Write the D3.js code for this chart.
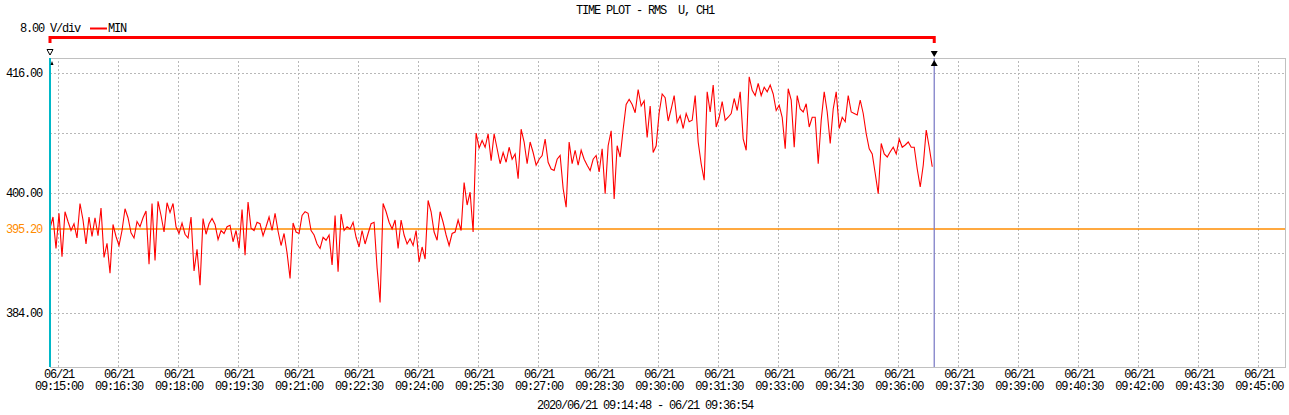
<!DOCTYPE html>
<html>
<head>
<meta charset="utf-8">
<script src="https://cdn.jsdelivr.net/npm/d3@7/dist/d3.min.js"></script>
<style>
  html, body { margin: 0; padding: 0; background: #fff; }
  svg text { font-family: "Liberation Mono", "DejaVu Sans Mono", monospace; font-size: 12px; letter-spacing: -1.2px; fill: #000; white-space: pre; }
</style>
</head>
<body>
<svg id="chart" width="1289" height="415"></svg>
<script>
// ---------- data ----------
const chartTitle = "TIME PLOT - RMS  U, CH1";
const scaleLabel = "8.00 V/div";
const seriesName = "MIN";
const rangeLabel = "2020/06/21 09:14:48 - 06/21 09:36:54";
const startTime = "2020/06/21 09:14:48";
const stepSeconds = 4.5;
const domainStart = "2020/06/21 09:14:48";
const domainEnd = "2020/06/21 09:45:40";
const markerStart = "2020/06/21 09:14:48";
const markerEnd = "2020/06/21 09:36:54";
const referenceValue = 395.20;
const yTickLabels = ["416.00", "400.00", "384.00"];
const yGridValues = [384, 392, 400, 408, 416];
const yDomain = [376.8, 418];
const xTickDate = "06/21";
const xTickTimes = ["09:15:00","09:16:30","09:18:00","09:19:30","09:21:00","09:22:30","09:24:00",
  "09:25:30","09:27:00","09:28:30","09:30:00","09:31:30","09:33:00","09:34:30","09:36:00",
  "09:37:30","09:39:00","09:40:30","09:42:00","09:43:30","09:45:00"];
const minValues = [
  395.3, 396.8, 392.6, 397.3, 391.5, 397.5, 396.2, 395.0, 395.9, 394.0,
  398.6, 396.4, 393.2, 396.8, 394.2, 396.7, 394.3, 398.0, 391.4, 393.3,
  389.3, 395.8, 394.2, 393.0, 395.0, 397.9, 396.7, 394.7, 394.0, 396.2,
  395.5, 396.7, 397.6, 390.5, 398.6, 391.0, 398.9, 397.0, 394.8, 398.7,
  397.4, 398.6,
  395.5, 394.6, 396.0, 394.5, 394.0, 396.8, 389.6, 392.5, 387.7, 396.6,
  394.5, 395.9, 396.6, 395.8, 393.8, 395.0, 394.6, 395.5, 395.7, 393.5,
  395.0, 392.6, 397.8, 391.7, 398.8, 395.3, 395.0, 396.1, 395.9, 394.3,
  395.5, 396.8, 395.0, 397.3, 394.9, 393.0, 394.6, 392.0, 388.6, 396.0,
  394.8, 394.6,
  397.0, 397.5, 397.3, 395.0, 394.4, 393.2, 392.6, 394.1, 393.7, 394.4,
  390.4, 397.0, 389.5, 397.2, 395.0, 395.5, 395.2, 396.1, 394.1, 392.8,
  395.0, 393.2, 394.6, 395.9, 396.1, 390.0, 385.4, 398.6, 397.5, 396.1,
  395.2, 396.4, 392.6, 396.4, 394.4, 393.2, 393.9, 393.0, 395.0, 390.8,
  392.8, 391.2, 399.0, 397.5,
  394.8, 393.7, 397.5, 396.1, 394.4, 393.0, 394.6, 394.8, 396.4, 395.0,
  401.4, 398.4, 400.1, 394.8, 408.0, 406.0, 407.0, 406.1, 407.9, 404.3,
  407.9, 405.9, 403.9, 405.4, 404.1, 406.1, 404.5, 405.2, 401.9, 408.5,
  406.8, 403.9, 406.8, 405.4, 403.7, 404.5, 405.0, 407.2, 404.1, 403.2,
  403.0, 404.5, 405.0, 400.6, 398.1, 406.8, 403.9, 405.7, 403.7, 405.7,
  404.5, 403.7, 403.0, 404.5, 405.0, 402.8, 405.9, 399.9, 406.3, 408.3,
  399.2, 406.3, 404.8, 408.5, 411.8, 412.5, 411.8, 410.7, 413.8, 411.6,
  412.3, 407.4, 411.6, 405.4, 406.3, 410.7, 413.2, 412.7, 409.6, 411.2,
  413.0, 409.4,
  410.3, 408.6, 410.6, 409.5, 409.7, 413.0, 406.8, 403.9, 401.7, 413.5,
  410.8, 414.4, 408.8, 410.1, 412.2, 409.7, 410.1, 410.6, 412.6, 411.0,
  413.5, 407.2, 405.7, 415.5, 413.7, 413.0, 414.6, 413.0, 414.1, 413.5,
  414.4, 413.2, 411.0, 411.7, 410.1, 405.9, 413.9, 412.4, 406.1, 413.0,
  411.2, 410.8, 411.9, 408.8, 410.1, 410.1, 403.9, 409.7, 413.5, 410.8,
  406.6, 411.2, 413.5, 408.6, 410.1, 409.5, 413.0, 410.8, 410.6, 410.4,
  412.4, 410.6, 407.9, 405.9, 405.2, 402.6, 399.9, 406.6, 405.2, 404.8,
  405.5, 406.1, 405.2, 407.2, 406.1, 406.4, 406.8, 406.1, 406.1, 403.2,
  400.8, 403.7, 408.4, 406.1, 403.5
];

// ---------- layout ----------
const parse = d3.timeParse("%Y/%m/%d %H:%M:%S");
const plot = { left: 50, right: 1285, top: 58, bottom: 367 };
const svg = d3.select("#chart");

const x = d3.scaleTime()
  .domain([parse(domainStart), parse(domainEnd)])
  .range([plot.left, plot.right]);
const y = d3.scaleLinear().domain(yDomain).range([plot.bottom, plot.top]);

const t0 = parse(startTime);
const series = minValues.map((v, i) => ({ t: new Date(t0.getTime() + i * stepSeconds * 1000), v }));
const tickDates = xTickTimes.map(s => parse("2020/06/21 " + s));

// vertical dotted grid
const gx = svg.append("g")
  .attr("transform", `translate(0,${plot.bottom})`)
  .call(d3.axisBottom(x).tickValues(tickDates).tickSize(-(plot.bottom - plot.top)).tickFormat(""));
gx.select(".domain").remove();
gx.selectAll("line").attr("stroke", "#b8b8b8").attr("stroke-dasharray", "2,2").attr("shape-rendering", "crispEdges");

// horizontal dotted grid
const gy = svg.append("g")
  .attr("transform", `translate(${plot.left},0)`)
  .call(d3.axisLeft(y).tickValues(yGridValues).tickSize(-(plot.right - plot.left)).tickFormat(""));
gy.select(".domain").remove();
gy.selectAll("line").attr("stroke", "#b8b8b8").attr("stroke-dasharray", "2,2").attr("shape-rendering", "crispEdges");

// frame
svg.append("path")
  .attr("d", `M${plot.left},${plot.top}H${plot.right}V${plot.bottom}H${plot.left}`)
  .attr("fill", "none").attr("stroke", "#c0c0c0").attr("shape-rendering", "crispEdges");

// reference line
svg.append("line")
  .attr("x1", plot.left).attr("x2", plot.right)
  .attr("y1", y(referenceValue)).attr("y2", y(referenceValue))
  .attr("stroke", "#ff8c00").attr("stroke-width", 1.3);

// series
svg.append("path")
  .datum(series)
  .attr("fill", "none")
  .attr("stroke", "#ff0000")
  .attr("stroke-width", 1.1)
  .attr("d", d3.line().x(d => x(d.t)).y(d => y(d.v)));

// cursors
const xs = x(parse(markerStart)), xe = x(parse(markerEnd));
svg.append("line").attr("x1", xs).attr("x2", xs).attr("y1", plot.top).attr("y2", plot.bottom)
  .attr("stroke", "#00b8c8").attr("stroke-width", 2);
svg.append("line").attr("x1", xe).attr("x2", xe).attr("y1", plot.top).attr("y2", plot.bottom)
  .attr("stroke", "#8080c8").attr("stroke-width", 1.3);

// range bracket
svg.append("path")
  .attr("d", `M${xs},43V37.5H${xe}V43`)
  .attr("fill", "none").attr("stroke", "#ff0000").attr("stroke-width", 3);

// triangle markers
svg.append("path").attr("d", `M${xs - 3},49.5H${xs + 3}L${xs},55Z`)
  .attr("fill", "#fff").attr("stroke", "#000").attr("stroke-width", 1);
svg.append("path").attr("d", `M${xs + 0.5},65H${xs + 3.5}L${xs + 2},61Z`).attr("fill", "#000");
svg.append("path").attr("d", `M${xe - 3.5},51H${xe + 3.5}L${xe},57Z`).attr("fill", "#000");
svg.append("path").attr("d", `M${xe - 3.5},66H${xe + 3.5}L${xe},60Z`).attr("fill", "#000");

// y labels
yTickLabels.forEach(s => {
  svg.append("text").attr("x", 42).attr("y", y(+s) + 4).attr("text-anchor", "end").text(s);
});
svg.append("text").attr("x", 42).attr("y", y(referenceValue) + 4).attr("text-anchor", "end")
  .style("fill", "#ff8c00").text(referenceValue.toFixed(2));

// x labels
tickDates.forEach((d, i) => {
  const t = svg.append("text").attr("x", x(d) + 1).attr("text-anchor", "middle");
  t.append("tspan").attr("x", x(d) + 1).attr("y", 378).text(xTickDate);
  t.append("tspan").attr("x", x(d) + 1).attr("y", 390).text(xTickTimes[i]);
});

// title, legend, footer
svg.append("text").attr("x", 645).attr("y", 14).attr("text-anchor", "middle").text(chartTitle);
svg.append("text").attr("x", 20).attr("y", 32).text(scaleLabel);
svg.append("line").attr("x1", 90).attr("x2", 107).attr("y1", 28.5).attr("y2", 28.5)
  .attr("stroke", "#ff0000").attr("stroke-width", 2);
svg.append("text").attr("x", 108).attr("y", 32).text(seriesName);
svg.append("text").attr("x", 645).attr("y", 409).attr("text-anchor", "middle").text(rangeLabel);
</script>
</body>
</html>
